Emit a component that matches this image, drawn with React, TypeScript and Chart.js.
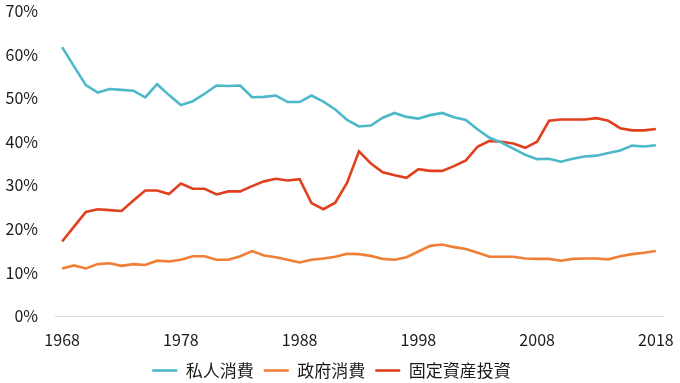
import React, { useEffect, useRef } from "react";
import { Chart, registerables } from "chart.js";

Chart.register(...registerables);

const years: number[] = Array.from({ length: 51 }, (_, i) => 1968 + i);
const xTickYears = [1968, 1978, 1988, 1998, 2008, 2018];
const seriesNames = ["私人消費", "政府消費", "固定資産投資"];

const privateConsumption = [
  61.7, 57.3, 53.0, 51.3, 52.1, 51.9, 51.7, 50.2, 53.2, 50.7,
  48.4, 49.3, 51.0, 52.9, 52.8, 52.9, 50.2, 50.3, 50.6, 49.1,
  49.1, 50.6, 49.2, 47.4, 45.0, 43.5, 43.7, 45.5, 46.6, 45.7,
  45.3, 46.1, 46.6, 45.6, 45.0, 42.8, 40.9, 39.8, 38.4, 37.0,
  36.0, 36.1, 35.4, 36.1, 36.6, 36.8, 37.4, 38.0, 39.1, 38.9,
  39.2,
];
const governmentConsumption = [
  10.9, 11.6, 10.9, 11.9, 12.1, 11.5, 11.9, 11.7, 12.7, 12.5,
  12.9, 13.7, 13.7, 12.9, 12.9, 13.7, 14.9, 13.9, 13.5, 12.9,
  12.3, 12.9, 13.2, 13.6, 14.3, 14.2, 13.8, 13.1, 12.9, 13.5,
  14.8, 16.1, 16.4, 15.8, 15.4, 14.5, 13.6, 13.6, 13.6, 13.2,
  13.1, 13.1, 12.7, 13.1, 13.2, 13.2, 13.0, 13.7, 14.2, 14.5,
  14.9,
];
const fixedInvestment = [
  17.1, 20.5, 23.9, 24.5, 24.3, 24.1, 26.5, 28.8, 28.8, 28.0,
  30.4, 29.2, 29.2, 27.9, 28.6, 28.6, 29.8, 30.9, 31.5, 31.1,
  31.4, 25.9, 24.5, 26.0, 30.6, 37.8, 35.0, 33.0, 32.3, 31.7,
  33.7, 33.3, 33.3, 34.4, 35.7, 38.9, 40.2, 40.0, 39.6, 38.6,
  40.0, 44.8, 45.1, 45.1, 45.1, 45.4, 44.8, 43.1, 42.6, 42.6,
  42.9,
];
const yTicks = [0, 10, 20, 30, 40, 50, 60, 70];

const colors = ["#4db8c9", "#f07f35", "#e1401f"];
const FONT = "'Noto Sans CJK TC', 'Noto Sans', sans-serif";

export default function App() {
  const ref = useRef<HTMLCanvasElement | null>(null);
  useEffect(() => {
    if (!ref.current) return;
    const all = [privateConsumption, governmentConsumption, fixedInvestment];
    const chart = new Chart(ref.current, {
      type: "line",
      data: {
        datasets: all.map((vals, i) => ({
          label: seriesNames[i],
          data: vals.map((v, j) => ({ x: years[j], y: v })),
          borderColor: colors[i],
          backgroundColor: colors[i],
          borderWidth: 2.6,
          pointRadius: 0,
          tension: 0,
        })),
      },
      options: {
        animation: false,
        responsive: false,
        maintainAspectRatio: false,
        layout: { padding: { top: 11, right: 17, left: 0, bottom: -6 } },
        plugins: {
          tooltip: { enabled: false },
          legend: {
            position: "bottom",
            labels: {
              usePointStyle: true,
              pointStyle: "line",
              pointStyleWidth: 25,
              boxHeight: 16,
              padding: 10,
              color: "#1a1a1a",
              font: { family: FONT, size: 17 },
            },
          },
        },
        scales: {
          x: {
            type: "linear",
            min: 1967.4,
            max: 2018.6,
            afterBuildTicks: (scale: any) => {
              scale.ticks = xTickYears.map((v) => ({ value: v }));
            },
            afterFit: (scale: any) => {
              scale.height = 36;
              scale.paddingLeft = 0;
              scale.paddingRight = 0;
            },
            grid: { display: false, drawTicks: false },
            border: { display: true, color: "#d9d9d9", width: 1 },
            ticks: {
              autoSkip: false,
              maxRotation: 0,
              padding: 14,
              color: "#1a1a1a",
              font: { family: FONT, size: 16 },
              callback: (v: any) => String(v),
            },
          },
          y: {
            min: 0,
            max: 70,
            afterBuildTicks: (scale: any) => {
              scale.ticks = yTicks.map((v) => ({ value: v }));
            },
            afterFit: (scale: any) => {
              scale.width = 55;
              scale.paddingTop = 0;
              scale.paddingBottom = 0;
            },
            grid: { display: false, drawTicks: false },
            border: { display: false },
            ticks: {
              padding: 17,
              color: "#1a1a1a",
              font: { family: FONT, size: 16 },
              callback: (v: any) => v + "%",
            },
          },
        },
      },
    } as any);
    return () => chart.destroy();
  }, []);
  return (
    <div style={{ position: "absolute", left: 0, top: 0, width: 680, height: 383, background: "#fff" }}>
      <canvas ref={ref} width={680} height={383} style={{ width: 680, height: 383 }} />
    </div>
  );
}
